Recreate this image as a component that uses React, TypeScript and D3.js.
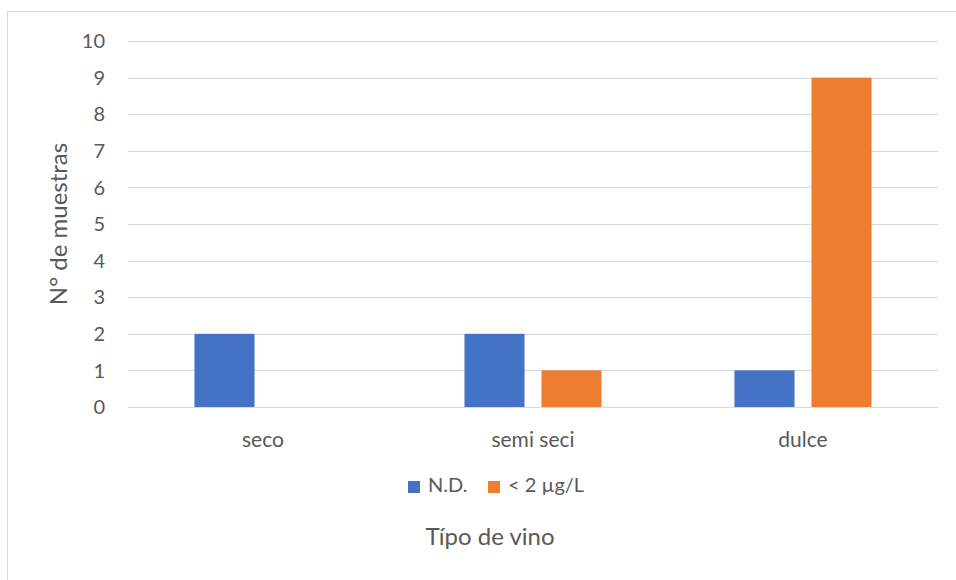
import React from "react";
import * as d3 from "d3";

const categories = ["seco", "semi seci", "dulce"];
const seriesNames = ["N.D.", "< 2 µg/L"];
const ndValues = [2, 2, 1];
const lowValues = [0, 1, 9];
const yTicks = [0, 1, 2, 3, 4, 5, 6, 7, 8, 9, 10];
const seriesColors = ["#4472C4", "#ED7D31"];

const W = 956;
const H = 580;
const plot = { left: 128, right: 938, top: 41, bottom: 407 };
const font = "Lato, 'Open Sans', sans-serif";
const textColor = "#595959";

export default function App() {
  const x0 = d3
    .scaleBand<string>()
    .domain(categories)
    .range([plot.left, plot.right])
    .paddingInner(0)
    .paddingOuter(0);
  const x1 = d3
    .scaleBand<string>()
    .domain(seriesNames)
    .range([0, x0.bandwidth()])
    .paddingInner(0.22)
    .paddingOuter(0.863);
  const y = d3.scaleLinear().domain([0, 10]).range([plot.bottom, plot.top]);

  const series = [ndValues, lowValues];

  return (
    <svg
      width={W}
      height={H}
      style={{ position: "absolute", left: 0, top: 0, background: "#fff" }}
    >
      <rect x={7.5} y={11.5} width={W + 10} height={H + 10} fill="#fff" stroke="#D9D9D9" strokeWidth={1} />
      {yTicks.map((t) => (
        <g key={t}>
          <line
            x1={plot.left}
            x2={plot.right}
            y1={Math.round(y(t)) + 0.5}
            y2={Math.round(y(t)) + 0.5}
            stroke="#D9D9D9"
            strokeWidth={1}
          />
          <text
            x={105}
            y={y(t)}
            dy="0.36em"
            textAnchor="end"
            fontFamily={font}
            fontSize={20}
            fill={textColor}
          >
            {t}
          </text>
        </g>
      ))}
      {categories.map((c, ci) => (
        <g key={c}>
          {series.map((vals, si) => {
            const v = vals[ci];
            if (v <= 0) return null;
            const bx = (x0(c) ?? 0) + (x1(seriesNames[si]) ?? 0);
            return (
              <rect
                key={si}
                x={bx}
                y={y(v)}
                width={x1.bandwidth()}
                height={y(0) - y(v)}
                fill={seriesColors[si]}
              />
            );
          })}
          <text
            x={(x0(c) ?? 0) + x0.bandwidth() / 2}
            y={447}
            textAnchor="middle"
            fontFamily={font}
            fontSize={21}
            fill={textColor}
          >
            {c}
          </text>
        </g>
      ))}
      <text
        transform={`translate(67, 224) rotate(-90)`}
        textAnchor="middle"
        fontFamily={font}
        fontSize={24}
        fill={textColor}
      >
        N° de muestras
      </text>
      <g>
        <rect x={408} y={481} width={12} height={12} fill={seriesColors[0]} />
        <text x={428} y={492} fontFamily={font} fontSize={20} fill={textColor}>
          {seriesNames[0]}
        </text>
        <rect x={488} y={481} width={12} height={12} fill={seriesColors[1]} />
        <text x={508} y={492} fontFamily={font} fontSize={20} fill={textColor}>
          {seriesNames[1]}
        </text>
      </g>
      <text
        x={490}
        y={545}
        textAnchor="middle"
        fontFamily={font}
        fontSize={24}
        fill={textColor}
      >
        Típo de vino
      </text>
    </svg>
  );
}
